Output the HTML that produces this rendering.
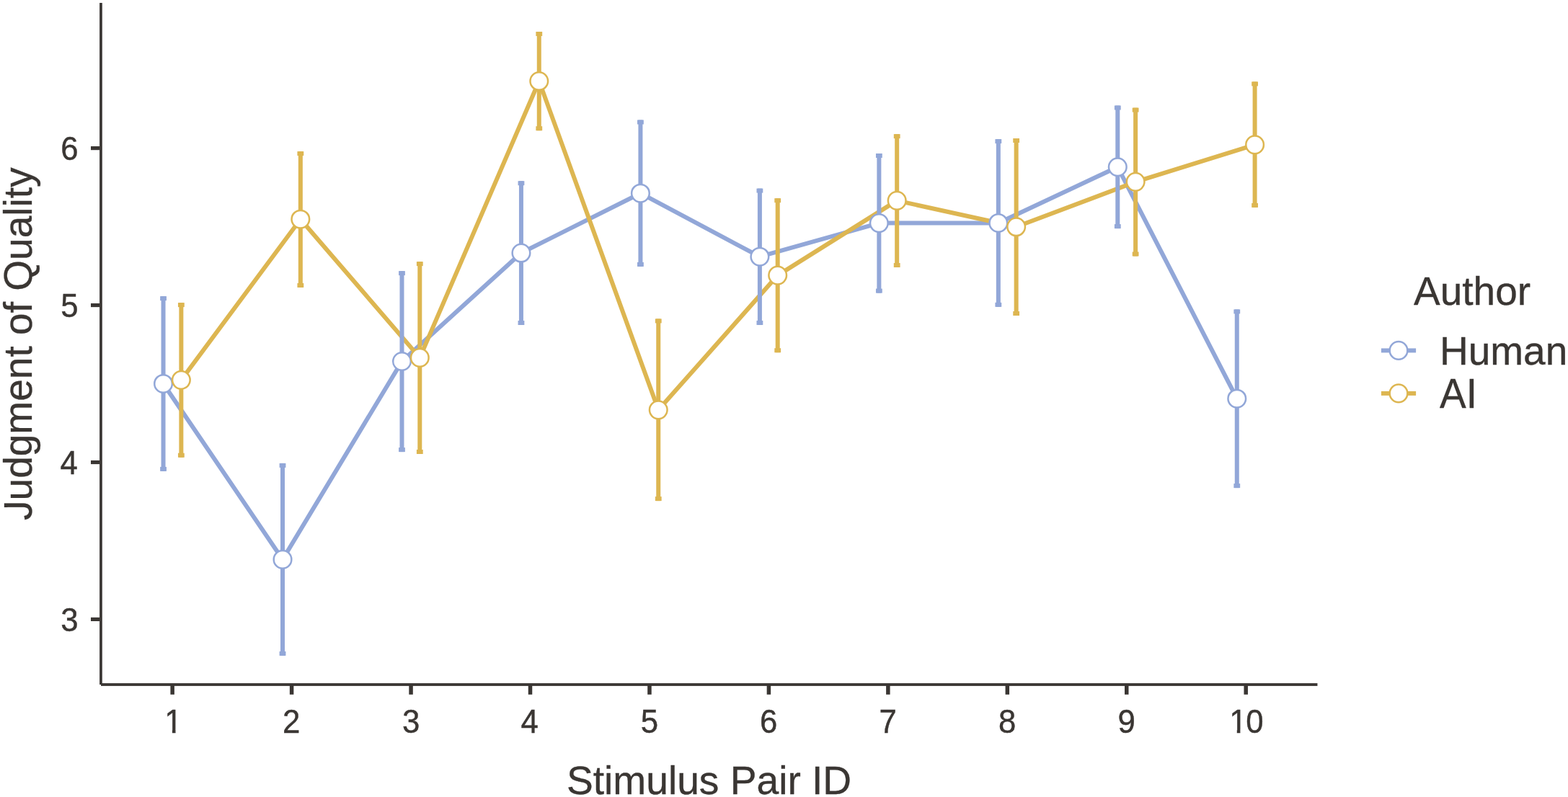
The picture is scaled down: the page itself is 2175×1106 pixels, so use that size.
<!DOCTYPE html>
<html lang="en">
<head>
<meta charset="utf-8">
<title>Judgment of Quality by Stimulus Pair ID and Author</title>
<style>
html,body{margin:0;padding:0;background:#fff;}
body{width:2175px;height:1106px;}
svg{display:block;}
text{font-family:"Liberation Sans", "DejaVu Sans", sans-serif;fill:#3a3633;}
</style>
</head>
<body>
<svg width="2175" height="1106" viewBox="0 0 2175 1106">
<rect x="0" y="0" width="2175" height="1106" fill="#ffffff"/>
<g id="lines">
<polyline points="226.54,532.45 392.01,776.4 557.48,501.5 722.95,351.05 888.42,268.2 1053.89,356.2 1219.36,309.6 1384.83,309.45 1550.3,231.75 1715.77,553.2" fill="none" stroke="#92a7d8" stroke-width="6.0" stroke-linejoin="round" stroke-linecap="butt"/>
<polyline points="251.36,527.35 416.83,304.2 582.3,496.4 747.77,112.55 913.24,568.85 1078.71,382.1 1244.18,278.4 1409.65,314.8 1575.12,252.4 1740.59,200.9" fill="none" stroke="#ddb651" stroke-width="6.0" stroke-linejoin="round" stroke-linecap="butt"/>
</g>
<g id="errorbars">
<g fill="#92a7d8">
<rect x="223.54" y="411.1" width="6" height="242.8"/>
<rect x="222.14" y="411.1" width="8.8" height="6"/>
<rect x="222.14" y="647.9" width="8.8" height="6"/>
<rect x="389.01" y="642.9" width="6" height="267"/>
<rect x="387.61" y="642.9" width="8.8" height="6"/>
<rect x="387.61" y="903.9" width="8.8" height="6"/>
<rect x="554.48" y="376.1" width="6" height="251"/>
<rect x="553.08" y="376.1" width="8.8" height="6"/>
<rect x="553.08" y="621.1" width="8.8" height="6"/>
<rect x="719.95" y="251.2" width="6" height="199.8"/>
<rect x="718.55" y="251.2" width="8.8" height="6"/>
<rect x="718.55" y="445" width="8.8" height="6"/>
<rect x="885.42" y="166.5" width="6" height="203.4"/>
<rect x="884.02" y="166.5" width="8.8" height="6"/>
<rect x="884.02" y="363.9" width="8.8" height="6"/>
<rect x="1050.89" y="261.6" width="6" height="189.35"/>
<rect x="1049.49" y="261.6" width="8.8" height="6"/>
<rect x="1049.49" y="444.95" width="8.8" height="6"/>
<rect x="1216.36" y="213" width="6" height="193.6"/>
<rect x="1214.96" y="213" width="8.8" height="6"/>
<rect x="1214.96" y="400.6" width="8.8" height="6"/>
<rect x="1381.83" y="193.1" width="6" height="232.75"/>
<rect x="1380.43" y="193.1" width="8.8" height="6"/>
<rect x="1380.43" y="419.85" width="8.8" height="6"/>
<rect x="1547.3" y="146.5" width="6" height="170.6"/>
<rect x="1545.9" y="146.5" width="8.8" height="6"/>
<rect x="1545.9" y="311.1" width="8.8" height="6"/>
<rect x="1712.77" y="429.4" width="6" height="247.7"/>
<rect x="1711.37" y="429.4" width="8.8" height="6"/>
<rect x="1711.37" y="671.1" width="8.8" height="6"/>
</g>
<g fill="#ddb651">
<rect x="248.36" y="420.1" width="6" height="214.65"/>
<rect x="246.96" y="420.1" width="8.8" height="6"/>
<rect x="246.96" y="628.75" width="8.8" height="6"/>
<rect x="413.83" y="210.1" width="6" height="188.85"/>
<rect x="412.43" y="210.1" width="8.8" height="6"/>
<rect x="412.43" y="392.95" width="8.8" height="6"/>
<rect x="579.3" y="363.1" width="6" height="266.9"/>
<rect x="577.9" y="363.1" width="8.8" height="6"/>
<rect x="577.9" y="624" width="8.8" height="6"/>
<rect x="744.77" y="44" width="6" height="137.2"/>
<rect x="743.37" y="44" width="8.8" height="6"/>
<rect x="743.37" y="175.2" width="8.8" height="6"/>
<rect x="910.24" y="442.4" width="6" height="252.7"/>
<rect x="908.84" y="442.4" width="8.8" height="6"/>
<rect x="908.84" y="689.1" width="8.8" height="6"/>
<rect x="1075.71" y="275.2" width="6" height="214"/>
<rect x="1074.31" y="275.2" width="8.8" height="6"/>
<rect x="1074.31" y="483.2" width="8.8" height="6"/>
<rect x="1241.18" y="186.1" width="6" height="184.9"/>
<rect x="1239.78" y="186.1" width="8.8" height="6"/>
<rect x="1239.78" y="365" width="8.8" height="6"/>
<rect x="1406.65" y="192" width="6" height="246"/>
<rect x="1405.25" y="192" width="8.8" height="6"/>
<rect x="1405.25" y="432" width="8.8" height="6"/>
<rect x="1572.12" y="149.6" width="6" height="205.9"/>
<rect x="1570.72" y="149.6" width="8.8" height="6"/>
<rect x="1570.72" y="349.5" width="8.8" height="6"/>
<rect x="1737.59" y="113.4" width="6" height="174.5"/>
<rect x="1736.19" y="113.4" width="8.8" height="6"/>
<rect x="1736.19" y="281.9" width="8.8" height="6"/>
</g>
</g>
<g id="points">
<g fill="#ffffff" stroke="#92a7d8" stroke-width="2.5">
<circle cx="226.54" cy="532.45" r="12.3"/>
<circle cx="392.01" cy="776.4" r="12.3"/>
<circle cx="557.48" cy="501.5" r="12.3"/>
<circle cx="722.95" cy="351.05" r="12.3"/>
<circle cx="888.42" cy="268.2" r="12.3"/>
<circle cx="1053.89" cy="356.2" r="12.3"/>
<circle cx="1219.36" cy="309.6" r="12.3"/>
<circle cx="1384.83" cy="309.45" r="12.3"/>
<circle cx="1550.3" cy="231.75" r="12.3"/>
<circle cx="1715.77" cy="553.2" r="12.3"/>
</g>
<g fill="#ffffff" stroke="#ddb651" stroke-width="2.5">
<circle cx="251.36" cy="527.35" r="12.3"/>
<circle cx="416.83" cy="304.2" r="12.3"/>
<circle cx="582.3" cy="496.4" r="12.3"/>
<circle cx="747.77" cy="112.55" r="12.3"/>
<circle cx="913.24" cy="568.85" r="12.3"/>
<circle cx="1078.71" cy="382.1" r="12.3"/>
<circle cx="1244.18" cy="278.4" r="12.3"/>
<circle cx="1409.65" cy="314.8" r="12.3"/>
<circle cx="1575.12" cy="252.4" r="12.3"/>
<circle cx="1740.59" cy="200.9" r="12.3"/>
</g>
</g>
<g id="axes" fill="#3a3633">
<rect x="138.1" y="4" width="3.7" height="946"/>
<rect x="140" y="948.1" width="1687.45" height="3.8"/>
<rect x="126" y="203" width="12.5" height="5.2"/>
<rect x="126" y="420.95" width="12.5" height="5.2"/>
<rect x="126" y="638.9" width="12.5" height="5.2"/>
<rect x="126" y="856.8" width="12.5" height="5.2"/>
<rect x="236.4" y="951" width="5.5" height="12.8"/>
<rect x="401.85" y="951" width="5.5" height="12.8"/>
<rect x="567.3" y="951" width="5.5" height="12.8"/>
<rect x="732.75" y="951" width="5.5" height="12.8"/>
<rect x="898.2" y="951" width="5.5" height="12.8"/>
<rect x="1063.65" y="951" width="5.5" height="12.8"/>
<rect x="1229.1" y="951" width="5.5" height="12.8"/>
<rect x="1394.55" y="951" width="5.5" height="12.8"/>
<rect x="1560" y="951" width="5.5" height="12.8"/>
<rect x="1725.45" y="951" width="5.5" height="12.8"/>
</g>
<g id="ylabels">
<text transform="translate(108.5,222) scale(1.0,1.055)" font-size="43.8" text-anchor="end" stroke="#3a3633" stroke-width="0.4">6</text>
<text transform="translate(108.65,439.95) scale(1.0,1.055)" font-size="43.8" text-anchor="end" stroke="#3a3633" stroke-width="0.4">5</text>
<text transform="translate(107.95,657.9) scale(1.0,1.055)" font-size="43.8" text-anchor="end" stroke="#3a3633" stroke-width="0.4">4</text>
<text transform="translate(108.7,875.8) scale(1.0,1.055)" font-size="43.8" text-anchor="end" stroke="#3a3633" stroke-width="0.4">3</text>
</g>
<g id="xlabels">
<clipPath id="clipOne" clipPathUnits="userSpaceOnUse">
<rect x="221.12" y="970" width="62.72" height="42.74"/>
<rect x="238.93" y="1012.24" width="4.57" height="12"/>
</clipPath>
<g clip-path="url(#clipOne)">
<text transform="translate(240.45,1017.4) scale(1.0,1.055)" font-size="43.8" text-anchor="middle" stroke="#3a3633" stroke-width="0.4">1</text>
</g>
<text transform="translate(404.15,1017.4) scale(1.0,1.055)" font-size="43.8" text-anchor="middle" stroke="#3a3633" stroke-width="0.4">2</text>
<text transform="translate(570.07,1017.4) scale(1.0,1.055)" font-size="43.8" text-anchor="middle" stroke="#3a3633" stroke-width="0.4">3</text>
<text transform="translate(734.7,1017.4) scale(1.0,1.055)" font-size="43.8" text-anchor="middle" stroke="#3a3633" stroke-width="0.4">4</text>
<text transform="translate(900.94,1017.4) scale(1.0,1.055)" font-size="43.8" text-anchor="middle" stroke="#3a3633" stroke-width="0.4">5</text>
<text transform="translate(1066.15,1017.4) scale(1.0,1.055)" font-size="43.8" text-anchor="middle" stroke="#3a3633" stroke-width="0.4">6</text>
<text transform="translate(1231.72,1017.4) scale(1.0,1.055)" font-size="43.8" text-anchor="middle" stroke="#3a3633" stroke-width="0.4">7</text>
<text transform="translate(1397.08,1017.4) scale(1.0,1.055)" font-size="43.8" text-anchor="middle" stroke="#3a3633" stroke-width="0.4">8</text>
<text transform="translate(1562.71,1017.4) scale(1.0,1.055)" font-size="43.8" text-anchor="middle" stroke="#3a3633" stroke-width="0.4">9</text>
<clipPath id="clipTen" clipPathUnits="userSpaceOnUse">
<rect x="1697.99" y="970" width="62.72" height="42.74"/>
<rect x="1715.8" y="1012.24" width="4.57" height="12"/>
<rect x="1729.35" y="1012.24" width="40" height="12"/>
</clipPath>
<g clip-path="url(#clipTen)">
<text transform="translate(1703.99,1017.4) scale(1.0,1.055)" x="1.15 24.36" font-size="43.8" text-anchor="start" stroke="#3a3633" stroke-width="0.4">10</text>
</g>
</g>
<g id="titles">
<text transform="translate(983.6,1101.5) scale(1.0025,1.015)" font-size="55" text-anchor="middle" stroke="#3a3633" stroke-width="0.35">Stimulus Pair ID</text>
<clipPath id="clipJ" clipPathUnits="userSpaceOnUse">
<rect x="0" y="200" width="80" height="504"/>
<rect x="12" y="704" width="68" height="60"/>
</clipPath>
<g clip-path="url(#clipJ)">
<text transform="translate(43.9,477.2) rotate(-90) scale(1.0012,1.015)" font-size="55" text-anchor="middle" stroke="#3a3633" stroke-width="0.35">Judgment of Quality</text>
</g>
</g>
<g id="legend">
<text transform="translate(1961,423.3) scale(1.0,1.015)" font-size="55" text-anchor="start" stroke="#3a3633" stroke-width="0.35">Author</text>
<rect x="1915.9" y="483.4" width="48.2" height="6" fill="#92a7d8"/>
<circle cx="1940" cy="486.4" r="12.3" fill="#ffffff" stroke="#92a7d8" stroke-width="2.5"/>
<text transform="translate(1997,506) scale(1.0,1.012)" font-size="55" text-anchor="start" stroke="#3a3633" stroke-width="0.35">Human</text>
<rect x="1915.9" y="542.9" width="48.2" height="6" fill="#ddb651"/>
<circle cx="1940" cy="545.9" r="12.3" fill="#ffffff" stroke="#ddb651" stroke-width="2.5"/>
<text transform="translate(1997,565.6) scale(1.0,1.03)" font-size="55" text-anchor="start" stroke="#3a3633" stroke-width="0.35">AI</text>
</g>
</svg>
</body>
</html>
